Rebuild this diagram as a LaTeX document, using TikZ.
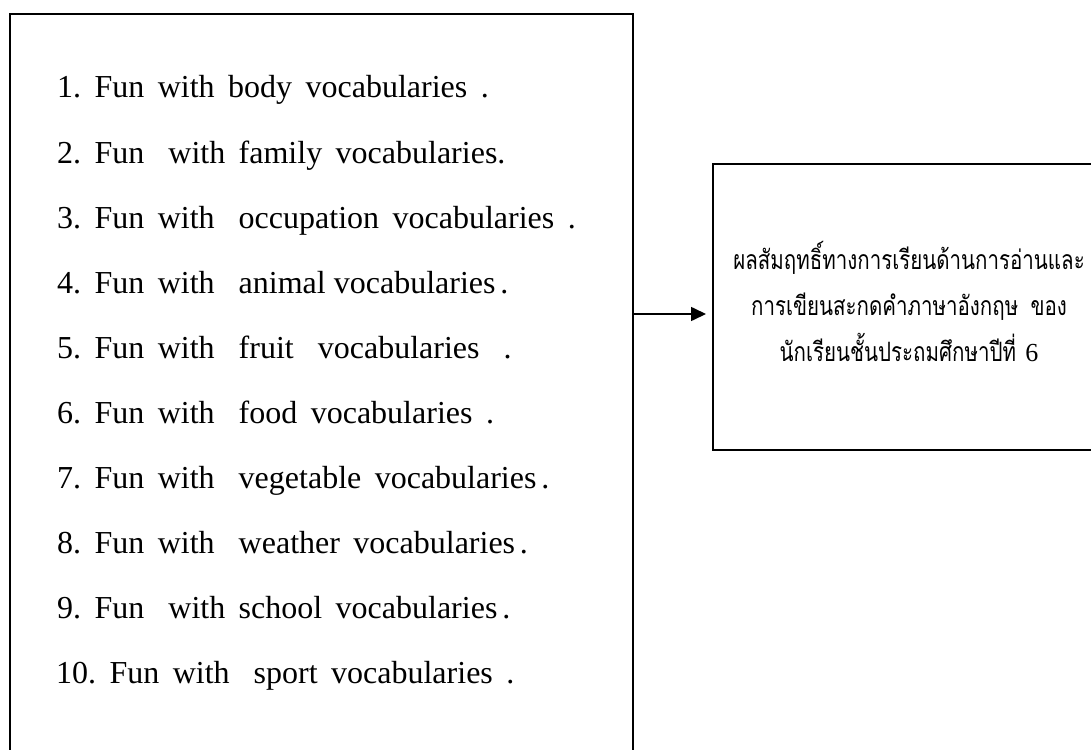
\documentclass[tikz,border=0pt]{standalone}
\usepackage{fontspec}
\setmainfont{Liberation Serif}
\newfontfamily\thaifont[Script=Thai]{Loma}
\usetikzlibrary{arrows.meta}
\tikzset{
  box/.style={draw=black, line width=1.6pt, rectangle, inner sep=0pt},
  item/.style={anchor=base west, inner sep=0pt, font=\fontsize{32}{38}\selectfont},
  thai/.style={anchor=base, inner sep=0pt, font=\thaifont\fontsize{20.5}{24}\selectfont},
  link/.style={line width=1.6pt, -{Triangle[length=15pt,width=14pt]}, shorten >=6pt}
}
\newcommand{\wsa}{\hspace{0.42em}}
\newcommand{\wsb}{\hspace{0.75em}}
\newcommand{\tall}[1]{\scalebox{1}[1.3]{#1}}
\begin{document}
\begin{tikzpicture}[x=1pt,y=-1pt]
\useasboundingbox (0,0) rectangle (1091,749);
\clip (0,0) rectangle (1091,749);
\fill[white] (0,0) rectangle (1091,749);
\node[box, anchor=north west, minimum width=623pt, minimum height=780pt] (lbox) at (9,13) {};
\node[box, anchor=north west, minimum width=392pt, minimum height=286pt] (rbox) at (712,163) {};
\node[item] (i1) at (57,98) {1.\wsa Fun\wsa with\wsa body\wsa vocabularies\wsa .};
\node[item] (i2) at (57,163) {2.\wsa Fun\wsb with\wsa family\wsa vocabularies.};
\node[item] (i3) at (57,228) {3.\wsa Fun\wsa with\wsb occupation\wsa vocabularies\wsa .};
\node[item] (i4) at (57,293) {4.\wsa Fun\wsa with\wsb animal vocabularies\hspace{0.15em}.};
\node[item] (i5) at (57,358) {5.\wsa Fun\wsa with\wsb fruit\wsb vocabularies\wsb .};
\node[item] (i6) at (57,423) {6.\wsa Fun\wsa with\wsb food\wsa vocabularies\wsa .};
\node[item] (i7) at (57,488) {7.\wsa Fun\wsa with\wsb vegetable\wsa vocabularies\hspace{0.15em}.};
\node[item] (i8) at (57,553) {8.\wsa Fun\wsa with\wsb weather\wsa vocabularies\hspace{0.15em}.};
\node[item] (i9) at (57,618) {9.\wsa Fun\wsb with\wsa school\wsa vocabularies\hspace{0.15em}.};
\node[item] (i10) at (56,683) {10.\wsa Fun\wsa with\wsb sport\wsa vocabularies\wsa .};
\node[thai] (t1) at (909,269) {\tall{ผลสัมฤทธิ์ทางการเรียนด้านการอ่านและ}};
\node[thai] (t2) at (909,315) {\tall{การเขียนสะกดคำภาษาอังกฤษ\hspace{0.6em}ของ}};
\node[thai] (t3) at (909,361) {\tall{นักเรียนชั้นประถมศึกษาปีที่}\hspace{0.45em}{\rmfamily\fontsize{26}{30}\selectfont 6}};
\coordinate (ay) at (0,314);
\draw[link] (lbox.east |- ay) -- (rbox.west |- ay);
\end{tikzpicture}
\end{document}
